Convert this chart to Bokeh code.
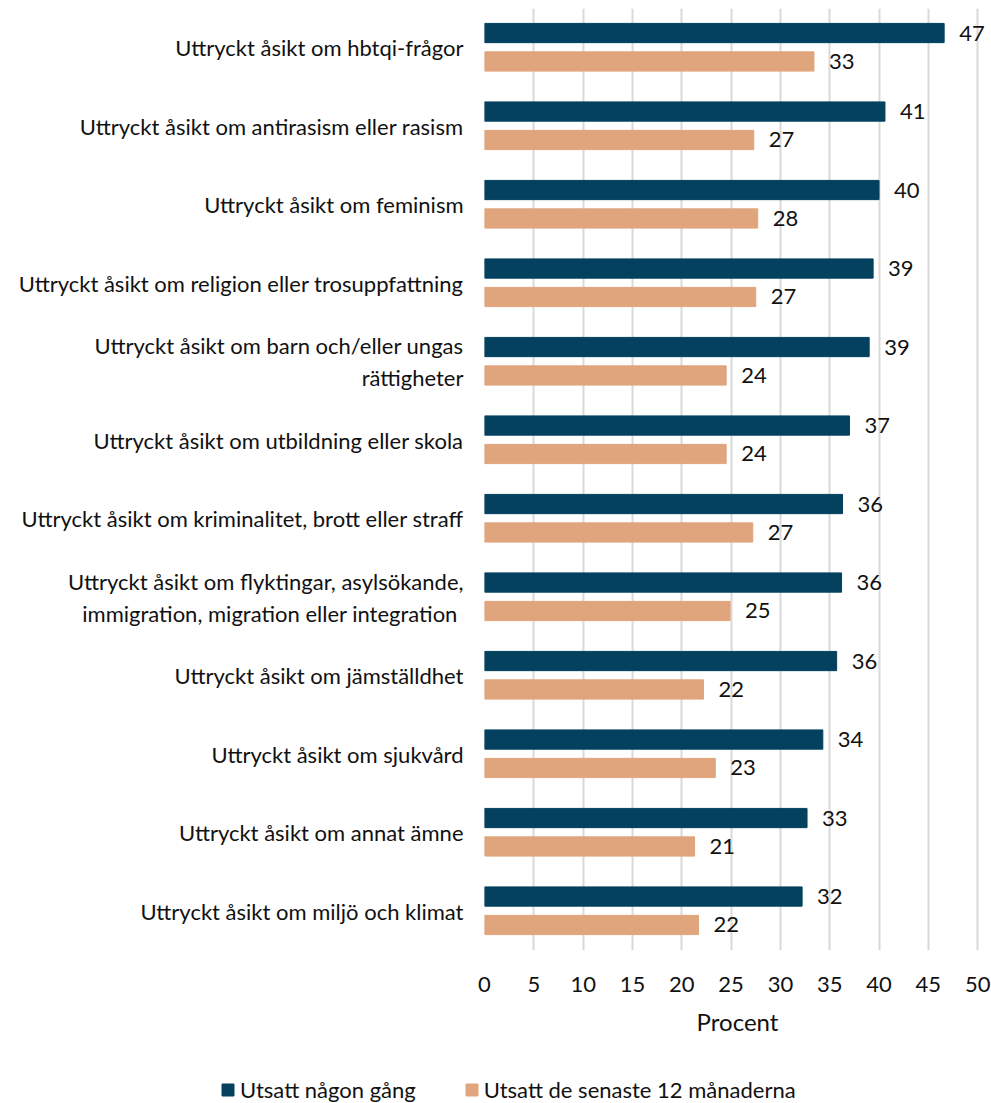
from bokeh.plotting import figure
from bokeh.layouts import column
from bokeh.models import ColumnDataSource, FactorRange, LabelSet, Legend, LegendItem, FixedTicker, Range1d
from bokeh.transform import dodge
from bokeh.core.properties import value
from bokeh.embed import file_html
from bokeh.resources import INLINE

categories = [
    "Uttryckt åsikt om hbtqi-frågor",
    "Uttryckt åsikt om antirasism eller rasism",
    "Uttryckt åsikt om feminism",
    "Uttryckt åsikt om religion eller trosuppfattning",
    "Uttryckt åsikt om barn och/eller ungas\nrättigheter",
    "Uttryckt åsikt om utbildning eller skola",
    "Uttryckt åsikt om kriminalitet, brott eller straff",
    "Uttryckt åsikt om flyktingar, asylsökande,\nimmigration, migration eller integration ",
    "Uttryckt åsikt om jämställdhet",
    "Uttryckt åsikt om sjukvård",
    "Uttryckt åsikt om annat ämne",
    "Uttryckt åsikt om miljö och klimat",
]
utsatt_nagon_gang = [46.6, 40.6, 40.0, 39.4, 39.0, 37.0, 36.3, 36.2, 35.7, 34.3, 32.7, 32.2]
utsatt_12_man = [33.4, 27.3, 27.7, 27.5, 24.5, 24.5, 27.2, 24.9, 22.2, 23.4, 21.3, 21.7]
labels_nagon_gang = ["47", "41", "40", "39", "39", "37", "36", "36", "36", "34", "33", "32"]
labels_12_man = ["33", "27", "28", "27", "24", "24", "27", "25", "22", "23", "21", "22"]
x_ticks = [0, 5, 10, 15, 20, 25, 30, 35, 40, 45, 50]
series_names = ["Utsatt någon gång", "Utsatt de senaste 12 månaderna"]
x_title = "Procent"

BLUE = "#03415F"
ORANGE = "#E0A57C"
FONT = "Lato"
TXT = "#111111"
FS = "22px"

src = ColumnDataSource(dict(
    cat=categories,
    a=utsatt_nagon_gang,
    b=utsatt_12_man,
    la=labels_nagon_gang,
    lb=labels_12_man,
))

# frame spans a bit past 50 so the value labels are not clipped
p = figure(
    width=991, height=1040,
    y_range=FactorRange(factors=list(reversed(categories))),
    x_range=Range1d(0, 51.3),
    output_backend="svg", toolbar_location=None,
    min_border_left=484, min_border_right=1, min_border_top=8, min_border_bottom=90,
)
p.outline_line_color = None
p.background_fill_color = "white"
p.border_fill_color = "white"

ra = p.hbar(y=dodge("cat", 0.1875, range=p.y_range), right="a", left=0, height=0.245,
            source=src, fill_color=BLUE, line_color=BLUE)
rb = p.hbar(y=dodge("cat", -0.175, range=p.y_range), right="b", left=0, height=0.245,
            source=src, fill_color=ORANGE, line_color=ORANGE)

for col, lcol, off in [("a", "la", 0.1875), ("b", "lb", -0.175)]:
    ls = LabelSet(x=col, y=dodge("cat", off, range=p.y_range), text=lcol, source=src,
                  x_offset=15, text_baseline="middle", text_align="left",
                  text_font=value(FONT), text_font_size=FS, text_color=TXT)
    p.add_layout(ls)

# grid
p.ygrid.grid_line_color = None
p.xgrid.grid_line_color = "#D9D9D9"
p.xgrid.grid_line_width = 2
p.xgrid.ticker = FixedTicker(ticks=x_ticks)

# x axis
p.xaxis.ticker = FixedTicker(ticks=x_ticks)
p.xaxis.axis_line_color = None
p.xaxis.major_tick_line_color = None
p.xaxis.minor_tick_line_color = None
p.xaxis.major_tick_out = 0
p.xaxis.major_label_standoff = 26
p.xaxis.major_label_text_font = FONT
p.xaxis.major_label_text_font_size = FS
p.xaxis.major_label_text_color = TXT
p.xaxis.axis_label = x_title
p.xaxis.axis_label_text_font = FONT
p.xaxis.axis_label_text_font_size = "24px"
p.xaxis.axis_label_text_font_style = "normal"
p.xaxis.axis_label_text_color = TXT
p.xaxis.axis_label_standoff = 12

# y axis
p.yaxis.axis_line_color = None
p.yaxis.major_tick_line_color = None
p.yaxis.major_tick_out = 0
p.yaxis.major_label_standoff = 21
p.yaxis.major_label_text_font = FONT
p.yaxis.major_label_text_font_size = FS
p.yaxis.major_label_text_color = TXT

# legend strip below the chart (its bars lie outside its own view; only the legend shows)
lf = figure(width=991, height=63, x_range=Range1d(-2, -1), y_range=Range1d(0, 1),
            output_backend="svg", toolbar_location=None,
            x_axis_location=None, y_axis_location=None,
            min_border_left=0, min_border_right=0, min_border_top=0, min_border_bottom=0)
lf.frame_align = False
lf.grid.visible = False
lf.outline_line_color = None
la = lf.hbar(y=0.5, right="a", left=0, height=0.5, source=src, fill_color=BLUE, line_color=BLUE)
lb = lf.hbar(y=0.5, right="b", left=0, height=0.5, source=src, fill_color=ORANGE, line_color=ORANGE)
legend = Legend(items=[LegendItem(label=series_names[0], renderers=[la]),
                       LegendItem(label=series_names[1], renderers=[lb])],
                orientation="horizontal", location=(220, 0),
                padding=0, margin=0, spacing=48, glyph_width=15, glyph_height=15,
                label_height=24, label_standoff=5, label_text_font=FONT, label_text_font_size=FS,
                label_text_color=TXT, border_line_color=None, background_fill_alpha=0)
lf.add_layout(legend, "center")

open("out.html", "w").write(file_html(column(p, lf, spacing=0), INLINE))
